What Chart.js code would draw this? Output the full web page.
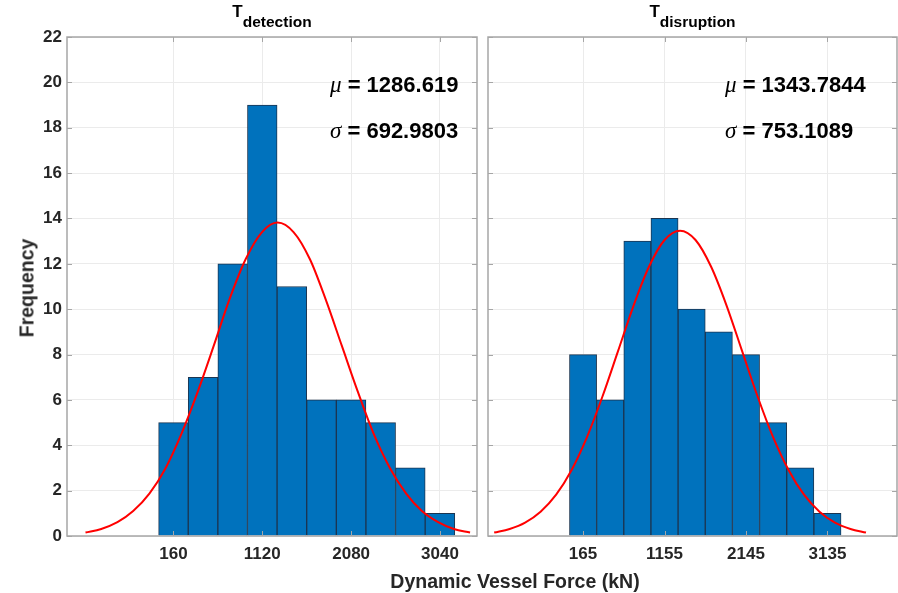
<!DOCTYPE html>
<html>
<head>
<meta charset="utf-8">
<script src="https://cdn.jsdelivr.net/npm/chart.js@4/dist/chart.umd.min.js"></script>
<style>
  html, body { margin: 0; padding: 0; background: #fff; }
  .wrap { position: relative; width: 898px; height: 593px; overflow: hidden; font-family: "Liberation Sans", Arial, Helvetica, sans-serif; color: #262626; }
  .wrap canvas { position: absolute; left: 0; top: 0; }
  .title { position: absolute; top: 2px; text-align: center; font-weight: bold; font-size: 17px; line-height: 20px; color: #000; white-space: nowrap; }
  .title span { font-size: 15.5px; position: relative; top: 10px; }
  .stat { position: absolute; font-weight: bold; font-size: 22px; line-height: 24px; color: #000; white-space: nowrap; }
  .stat i { font-family: "Liberation Serif", "Times New Roman", serif; font-weight: normal; font-style: italic; font-size: 23px; }
  .ylab { position: absolute; left: 27px; top: 288px; transform: translate(-50%, -50%) rotate(-90deg); font-weight: bold; font-size: 19.5px; white-space: nowrap; }
  .xlab { position: absolute; left: 515px; top: 581px; transform: translate(-50%, -50%); font-weight: bold; font-size: 19.5px; white-space: nowrap; }
</style>
</head>
<body>
<div class="wrap">
  <canvas id="left" width="898" height="593"></canvas>
  <canvas id="right" width="898" height="593"></canvas>
  <div class="title" style="left:67px;width:410px;">T<span>detection</span></div>
  <div class="title" style="left:488px;width:409px;">T<span>disruption</span></div>
  <div class="stat" style="left:330px;top:73px;"><i>μ</i> = 1286.619</div>
  <div class="stat" style="left:330px;top:119px;"><i>σ</i> = 692.9803</div>
  <div class="stat" style="left:725px;top:73px;"><i>μ</i> = 1343.7844</div>
  <div class="stat" style="left:725px;top:119px;"><i>σ</i> = 753.1089</div>
  <div class="ylab">Frequency</div>
  <div class="xlab">Dynamic Vessel Force (kN)</div>
</div>
<script>
// T_detection histogram
const detCenters = [160, 480, 800, 1120, 1440, 1760, 2080, 2400, 2720, 3040];
const detCounts  = [5, 7, 12, 19, 11, 6, 6, 5, 3, 1];
const detFitX = [-790, -620, -445, -275, -100, 75, 245, 420, 595, 765, 940, 1115, 1285,
                 1460, 1635, 1805, 1980, 2155, 2325, 2500, 2675, 2845, 3020, 3190, 3365];
const detFitY = [0.15, 0.31, 0.61, 1.1, 1.87, 2.99, 4.49, 6.33, 8.38, 10.43, 12.2, 13.39, 13.82,
                 13.39, 12.2, 10.43, 8.38, 6.33, 4.49, 2.99, 1.87, 1.1, 0.61, 0.31, 0.15];
const detTicks = [160, 1120, 2080, 3040];

// T_disruption histogram
const disCenters = [165, 495, 825, 1155, 1485, 1815, 2145, 2475, 2805, 3135];
const disCounts  = [8, 6, 13, 14, 10, 9, 8, 5, 3, 1];
const disFitX = [-915, -727, -539, -351, -162, 26, 214, 402, 591, 779, 967, 1155, 1344,
                 1532, 1720, 1909, 2097, 2285, 2473, 2662, 2850, 3038, 3226, 3415, 3603];
const disFitY = [0.15, 0.31, 0.59, 1.07, 1.82, 2.91, 4.37, 6.16, 8.16, 10.16, 11.88, 13.05, 13.46,
                 13.05, 11.88, 10.16, 8.16, 6.16, 4.37, 2.91, 1.82, 1.07, 0.59, 0.31, 0.15];
const disTicks = [165, 1155, 2145, 3135];

const yMax = 22;
const FONT = '"Liberation Sans", Arial, Helvetica, sans-serif';

// MATLAB-style box with inward ticks on all four sides
const boxPlugin = {
  id: 'box',
  afterDatasetsDraw(chart) {
    const { ctx, chartArea: a, scales: { x, y } } = chart;
    ctx.save();
    ctx.strokeStyle = '#a6a6a6';
    ctx.lineWidth = 1;
    ctx.beginPath();
    x.ticks.forEach(t => {
      const px = Math.round(x.getPixelForValue(t.value)) + 0.5;
      ctx.moveTo(px, a.bottom); ctx.lineTo(px, a.bottom - 5);
      ctx.moveTo(px, a.top); ctx.lineTo(px, a.top + 5);
    });
    y.ticks.forEach(t => {
      const py = Math.round(y.getPixelForValue(t.value)) + 0.5;
      ctx.moveTo(a.left, py); ctx.lineTo(a.left + 5, py);
      ctx.moveTo(a.right, py); ctx.lineTo(a.right - 5, py);
    });
    ctx.stroke();
    ctx.lineWidth = 1.5;
    ctx.strokeRect(a.left, a.top, a.right - a.left, a.bottom - a.top);
    ctx.restore();
  }
};

function makeHist(id, centers, counts, fitX, fitY, ticks, xMin, xMax, opts) {
  const bars = centers.map((c, i) => ({ x: c, y: counts[i] }));
  const fit = fitX.map((v, i) => ({ x: v, y: fitY[i] }));
  return new Chart(document.getElementById(id), {
    type: 'bar',
    data: {
      datasets: [
        {
          type: 'line',
          data: fit,
          borderColor: '#ff0000',
          borderWidth: 2,
          pointRadius: 0,
          fill: false,
          cubicInterpolationMode: 'monotone',
          order: 0,
        },
        {
          type: 'bar',
          data: bars,
          backgroundColor: '#0072bd',
          borderColor: '#1c3550',
          borderWidth: 1,
          barPercentage: 1,
          categoryPercentage: 1,
          order: 1,
        },
      ],
    },
    options: {
      responsive: false,
      animation: false,
      events: [],
      layout: { padding: { left: 0, top: 37, right: opts.padRight, bottom: 0 } },
      plugins: { legend: { display: false }, tooltip: { enabled: false } },
      scales: {
        x: {
          type: 'linear',
          offset: false,
          min: xMin,
          max: xMax,
          afterBuildTicks: (s) => { s.ticks = ticks.map(v => ({ value: v })); },
          afterFit: (s) => { s.height = 57; },
          grid: { color: '#ebebeb', lineWidth: 1, drawTicks: false, offset: false },
          border: { display: false },
          ticks: {
            color: '#262626',
            font: { family: FONT, size: 17, weight: 'bold' },
            padding: 8,
            maxRotation: 0,
            autoSkip: false,
            callback: (v) => String(v),
          },
        },
        y: {
          min: 0,
          max: yMax,
          afterFit: (s) => { s.width = opts.yWidth; },
          grid: { color: '#ebebeb', lineWidth: 1, drawTicks: false },
          border: { display: false },
          ticks: {
            display: opts.yLabels,
            stepSize: 2,
            color: '#262626',
            font: { family: FONT, size: 17, weight: 'bold' },
            padding: 5,
          },
        },
      },
    },
    plugins: [boxPlugin],
  });
}

makeHist('left', detCenters, detCounts, detFitX, detFitY, detTicks, -990, 3440,
  { padRight: 898 - 477, yWidth: 67, yLabels: true });
makeHist('right', disCenters, disCounts, disFitX, disFitY, disTicks, -990, 3980,
  { padRight: 1, yWidth: 488, yLabels: false });
</script>
</body>
</html>
